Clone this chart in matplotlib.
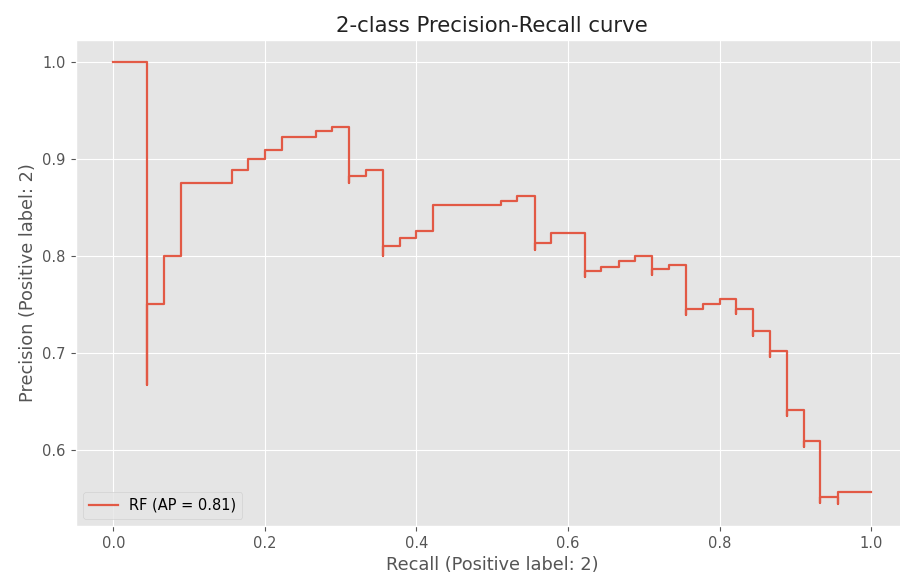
import matplotlib
matplotlib.use("Agg")
from matplotlib import pyplot as plt

plt.style.use("ggplot")

# points, in order of rising recall
recall = [0.0, 0.044, 0.044, 0.067, 0.089, 0.156, 0.178, 0.200, 0.222, 0.267,
          0.289, 0.311, 0.311, 0.333, 0.356, 0.356, 0.378, 0.400, 0.422, 0.511,
          0.533, 0.556, 0.556, 0.578, 0.622, 0.622, 0.644, 0.667, 0.689, 0.711,
          0.711, 0.733, 0.756, 0.756, 0.778, 0.800, 0.822, 0.822, 0.844, 0.844,
          0.867, 0.867, 0.889, 0.889, 0.911, 0.911, 0.933, 0.933, 0.956, 0.956,
          1.0]

precision = [1.0, 1.0, 0.667, 0.750, 0.800, 0.875, 0.889, 0.900, 0.909, 0.923,
             0.929, 0.933, 0.875, 0.882, 0.889, 0.800, 0.810, 0.818, 0.826, 0.852,
             0.857, 0.862, 0.806, 0.813, 0.824, 0.778, 0.784, 0.789, 0.795, 0.800,
             0.780, 0.786, 0.791, 0.739, 0.745, 0.750, 0.755, 0.740, 0.745, 0.717,
             0.722, 0.696, 0.702, 0.635, 0.641, 0.603, 0.609, 0.545, 0.551, 0.544,
             0.556]

ap_label = "RF (AP = 0.81)"

fig = plt.figure(figsize=(9, 5.78), dpi=100)
# axes run past the right edge, as in the cropped original
ax = fig.add_axes([75.5 / 900, 52 / 578, 833.5 / 900, 486 / 578])

ax.plot(recall, precision, drawstyle="steps-pre", color="#E24A33",
        linewidth=1.6, alpha=0.9, label=ap_label)

ax.set_xlim(-0.05, 1.05)
ax.set_ylim(0.5212, 1.0228)
ax.set_xticks([0.0, 0.2, 0.4, 0.6, 0.8, 1.0])
ax.set_yticks([0.6, 0.7, 0.8, 0.9, 1.0])
ax.tick_params(labelsize=10.5)

ax.set_xlabel("Recall (Positive label: 2)", fontsize=12.8)
ax.set_ylabel("Precision (Positive label: 2)", fontsize=12.8)
ax.set_title("2-class Precision-Recall curve", fontsize=15.3, color="#222222")

ax.legend(loc="lower left", fontsize=10.5)

plt.savefig("out.png", dpi=100)
